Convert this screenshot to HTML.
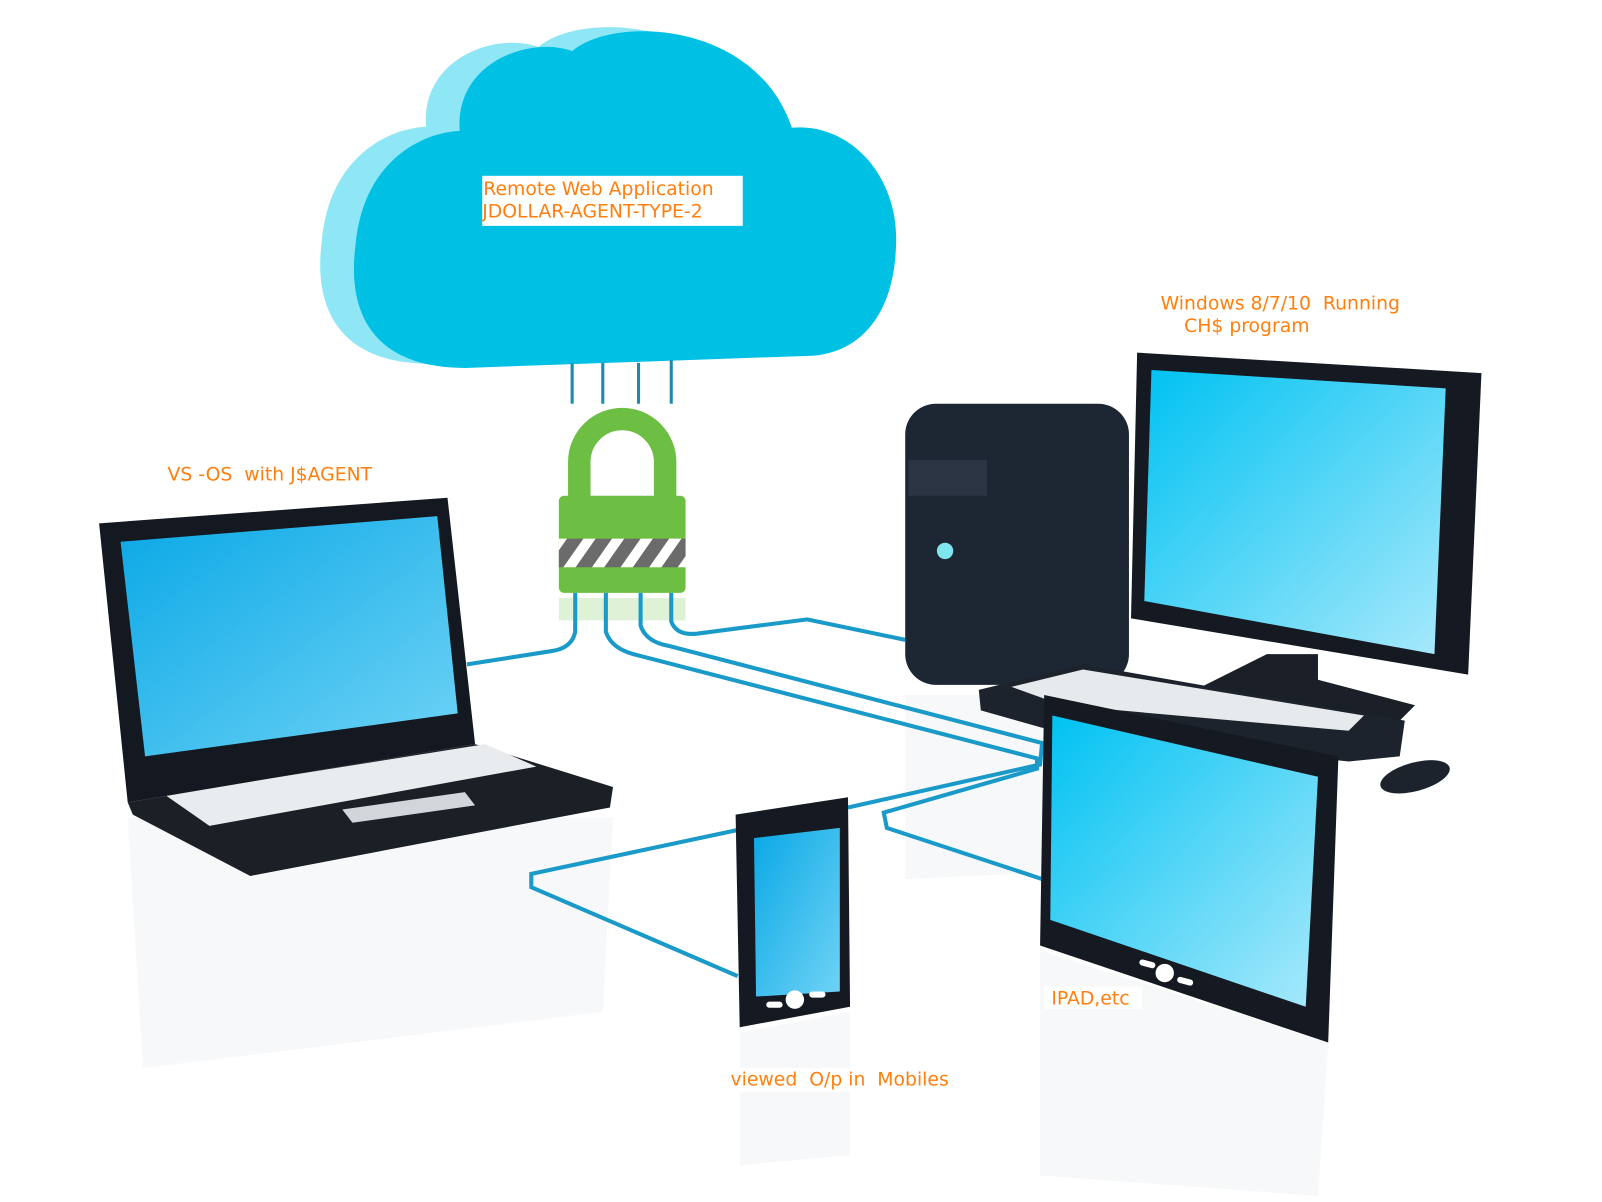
<!DOCTYPE html>
<html><head><meta charset="utf-8"><style>
html,body{margin:0;padding:0;background:#fff;}
svg{display:block}
text{font-family:"DejaVu Sans","Liberation Sans",sans-serif;font-size:18.4px;fill:#ff7f0e;white-space:pre}
</style></head><body>
<svg width="1602" height="1202" viewBox="0 0 1568 1176" preserveAspectRatio="none" xmlns="http://www.w3.org/2000/svg">
<defs>
<linearGradient id="scr" x1="0" y1="0" x2="1" y2="1"><stop offset="0" stop-color="#0aa8e6"/><stop offset="1" stop-color="#6fd3f5"/></linearGradient>
<linearGradient id="scr2" x1="0" y1="0" x2="1" y2="1"><stop offset="0" stop-color="#00c2f2"/><stop offset="1" stop-color="#a8e9fb"/></linearGradient>
<pattern id="hatch" width="28" height="30" patternUnits="userSpaceOnUse" patternTransform="skewX(-35)"><rect width="28" height="30" fill="#fff"/><rect width="16" height="30" fill="#6b6b6b"/></pattern>
</defs>
<!-- reflections -->
<g fill="#f6f8f9">
<polygon points="125,800 600,800 590,990 140,1045"/>
<polygon points="1018,930 1300,1020 1290,1170 1018,1150"/>
<polygon points="724,1010 832,990 832,1130 724,1140"/>
<polygon points="886,680 1105,680 1100,850 886,860"/>
</g>
<!-- cloud -->
<path transform="translate(-33,-4)" fill="#8fe6f4" d="M455 360 C360 360 340 300 348 240 C355 160 410 130 450 128 C445 60 520 35 560 50 C600 15 740 20 775 125 C830 120 880 170 877 240 C875 310 840 345 795 348 Z"/>
<path fill="#00c0e4" d="M455 360 C360 360 340 300 348 240 C355 160 410 130 450 128 C445 60 520 35 560 50 C600 15 740 20 775 125 C830 120 880 170 877 240 C875 310 840 345 795 348 Z"/>
<rect x="472" y="172" width="255" height="49" fill="#fff"/>
<text x="473" y="191">Remote Web Application</text>
<text x="472" y="213">JDOLLAR-AGENT-TYPE-2</text>
<!-- cloud lines -->
<g stroke="#1a8ab0" stroke-width="3"><line x1="560" y1="355" x2="560" y2="395"/><line x1="590" y1="355" x2="590" y2="395"/><line x1="625" y1="355" x2="625" y2="395"/><line x1="657" y1="352" x2="657" y2="395"/></g>
<!-- lock -->
<path d="M567 487 V452 A42 42 0 0 1 651 452 V487" fill="none" stroke="#6cbf43" stroke-width="22"/>
<rect x="547" y="485" width="124" height="95" rx="5" fill="#6cbf43"/>
<rect x="547" y="527" width="124" height="28" fill="url(#hatch)"/>
<rect x="547" y="585" width="124" height="22" fill="#dff1d6"/>
<!-- cables -->
<g fill="none" stroke="#1a9ac8" stroke-width="4">
<path d="M563 580 V618 Q560 634 540 637 L457 650"/>
<path d="M593 580 V618 Q598 634 620 640 L1015 742 L1015 752 L865 795 L868 810 L1020 860"/>
<path d="M627 580 V612 Q632 628 655 632 L1020 727 L1018 748 L830 790"/>
<path d="M722 812 L520 855 L520 868 L722 955"/>
<path d="M657 580 V608 Q662 622 682 620 L790 606 L886 626"/>
</g>
<!-- laptop -->
<polygon points="125,785 465,728 600,770 597,790 245,857 130,797" fill="#1b1f26"/>
<polygon points="162,778 475,728 525,750 205,808" fill="#e8ecef"/>
<polygon points="335,792 455,775 465,788 345,805" fill="#d0d6da"/>
<polygon points="97,512 438,487 465,728 125,785" fill="#141820"/>
<polygon points="118,530 428,505 448,698 142,740" fill="url(#scr)"/>
<!-- tower -->
<rect x="886" y="395" width="219" height="275" rx="30" fill="#1d2633"/>
<rect x="889" y="450" width="77" height="35" fill="#2a3442"/>
<circle cx="925" cy="539" r="8" fill="#7fe6ef"/>
<!-- monitor -->
<polygon points="1240,640 1290,640 1290,665 1385,690 1370,705 1160,680" fill="#1a1f28"/>
<polygon points="1113,345 1450,365 1437,660 1107,605" fill="#151a22"/>
<polygon points="1127,362 1415,380 1404,640 1120,588" fill="url(#scr2)"/>
<!-- keyboard -->
<polygon points="958,675 1060,650 1375,705 1370,740 1320,745 1020,712 960,695" fill="#1d232c"/>
<polygon points="990,672 1060,655 1335,700 1320,715 1040,690" fill="#e6eaec"/>
<ellipse cx="1385" cy="760" rx="35" ry="14" fill="#1d232c" transform="rotate(-15 1385 760)"/>
<!-- tablet -->
<polygon points="1022,680 1310,740 1300,1020 1018,925" fill="#151a22"/>
<polygon points="1030,700 1290,760 1278,985 1028,900" fill="url(#scr2)"/>
<circle cx="1140" cy="952" r="9" fill="#fff"/>
<rect x="1115" y="940" width="16" height="6" rx="3" fill="#fff" transform="rotate(15 1123 943)"/>
<rect x="1152" y="957" width="16" height="6" rx="3" fill="#fff" transform="rotate(15 1160 960)"/>
<!-- phone -->
<polygon points="720,797 830,780 832,985 724,1005" fill="#151a22"/>
<polygon points="738,820 822,810 822,970 740,975" fill="url(#scr)"/>
<circle cx="778" cy="978" r="9" fill="#fff"/>
<rect x="750" y="980" width="16" height="6" rx="3" fill="#fff"/>
<rect x="792" y="970" width="16" height="6" rx="3" fill="#fff"/>
<!-- labels -->
<text x="164" y="470">VS -OS  with J$AGENT</text>
<text x="1136" y="303">Windows 8/7/10  Running</text>
<text x="1159" y="325">CH$ program</text>
<rect x="1022" y="965" width="96" height="22" fill="#fff"/>
<text x="1029" y="983">IPAD,etc</text>
<rect x="713" y="1045" width="222" height="23" fill="#fff"/>
<text x="715" y="1062">viewed  O/p in  Mobiles</text>
</svg>
</body></html>
